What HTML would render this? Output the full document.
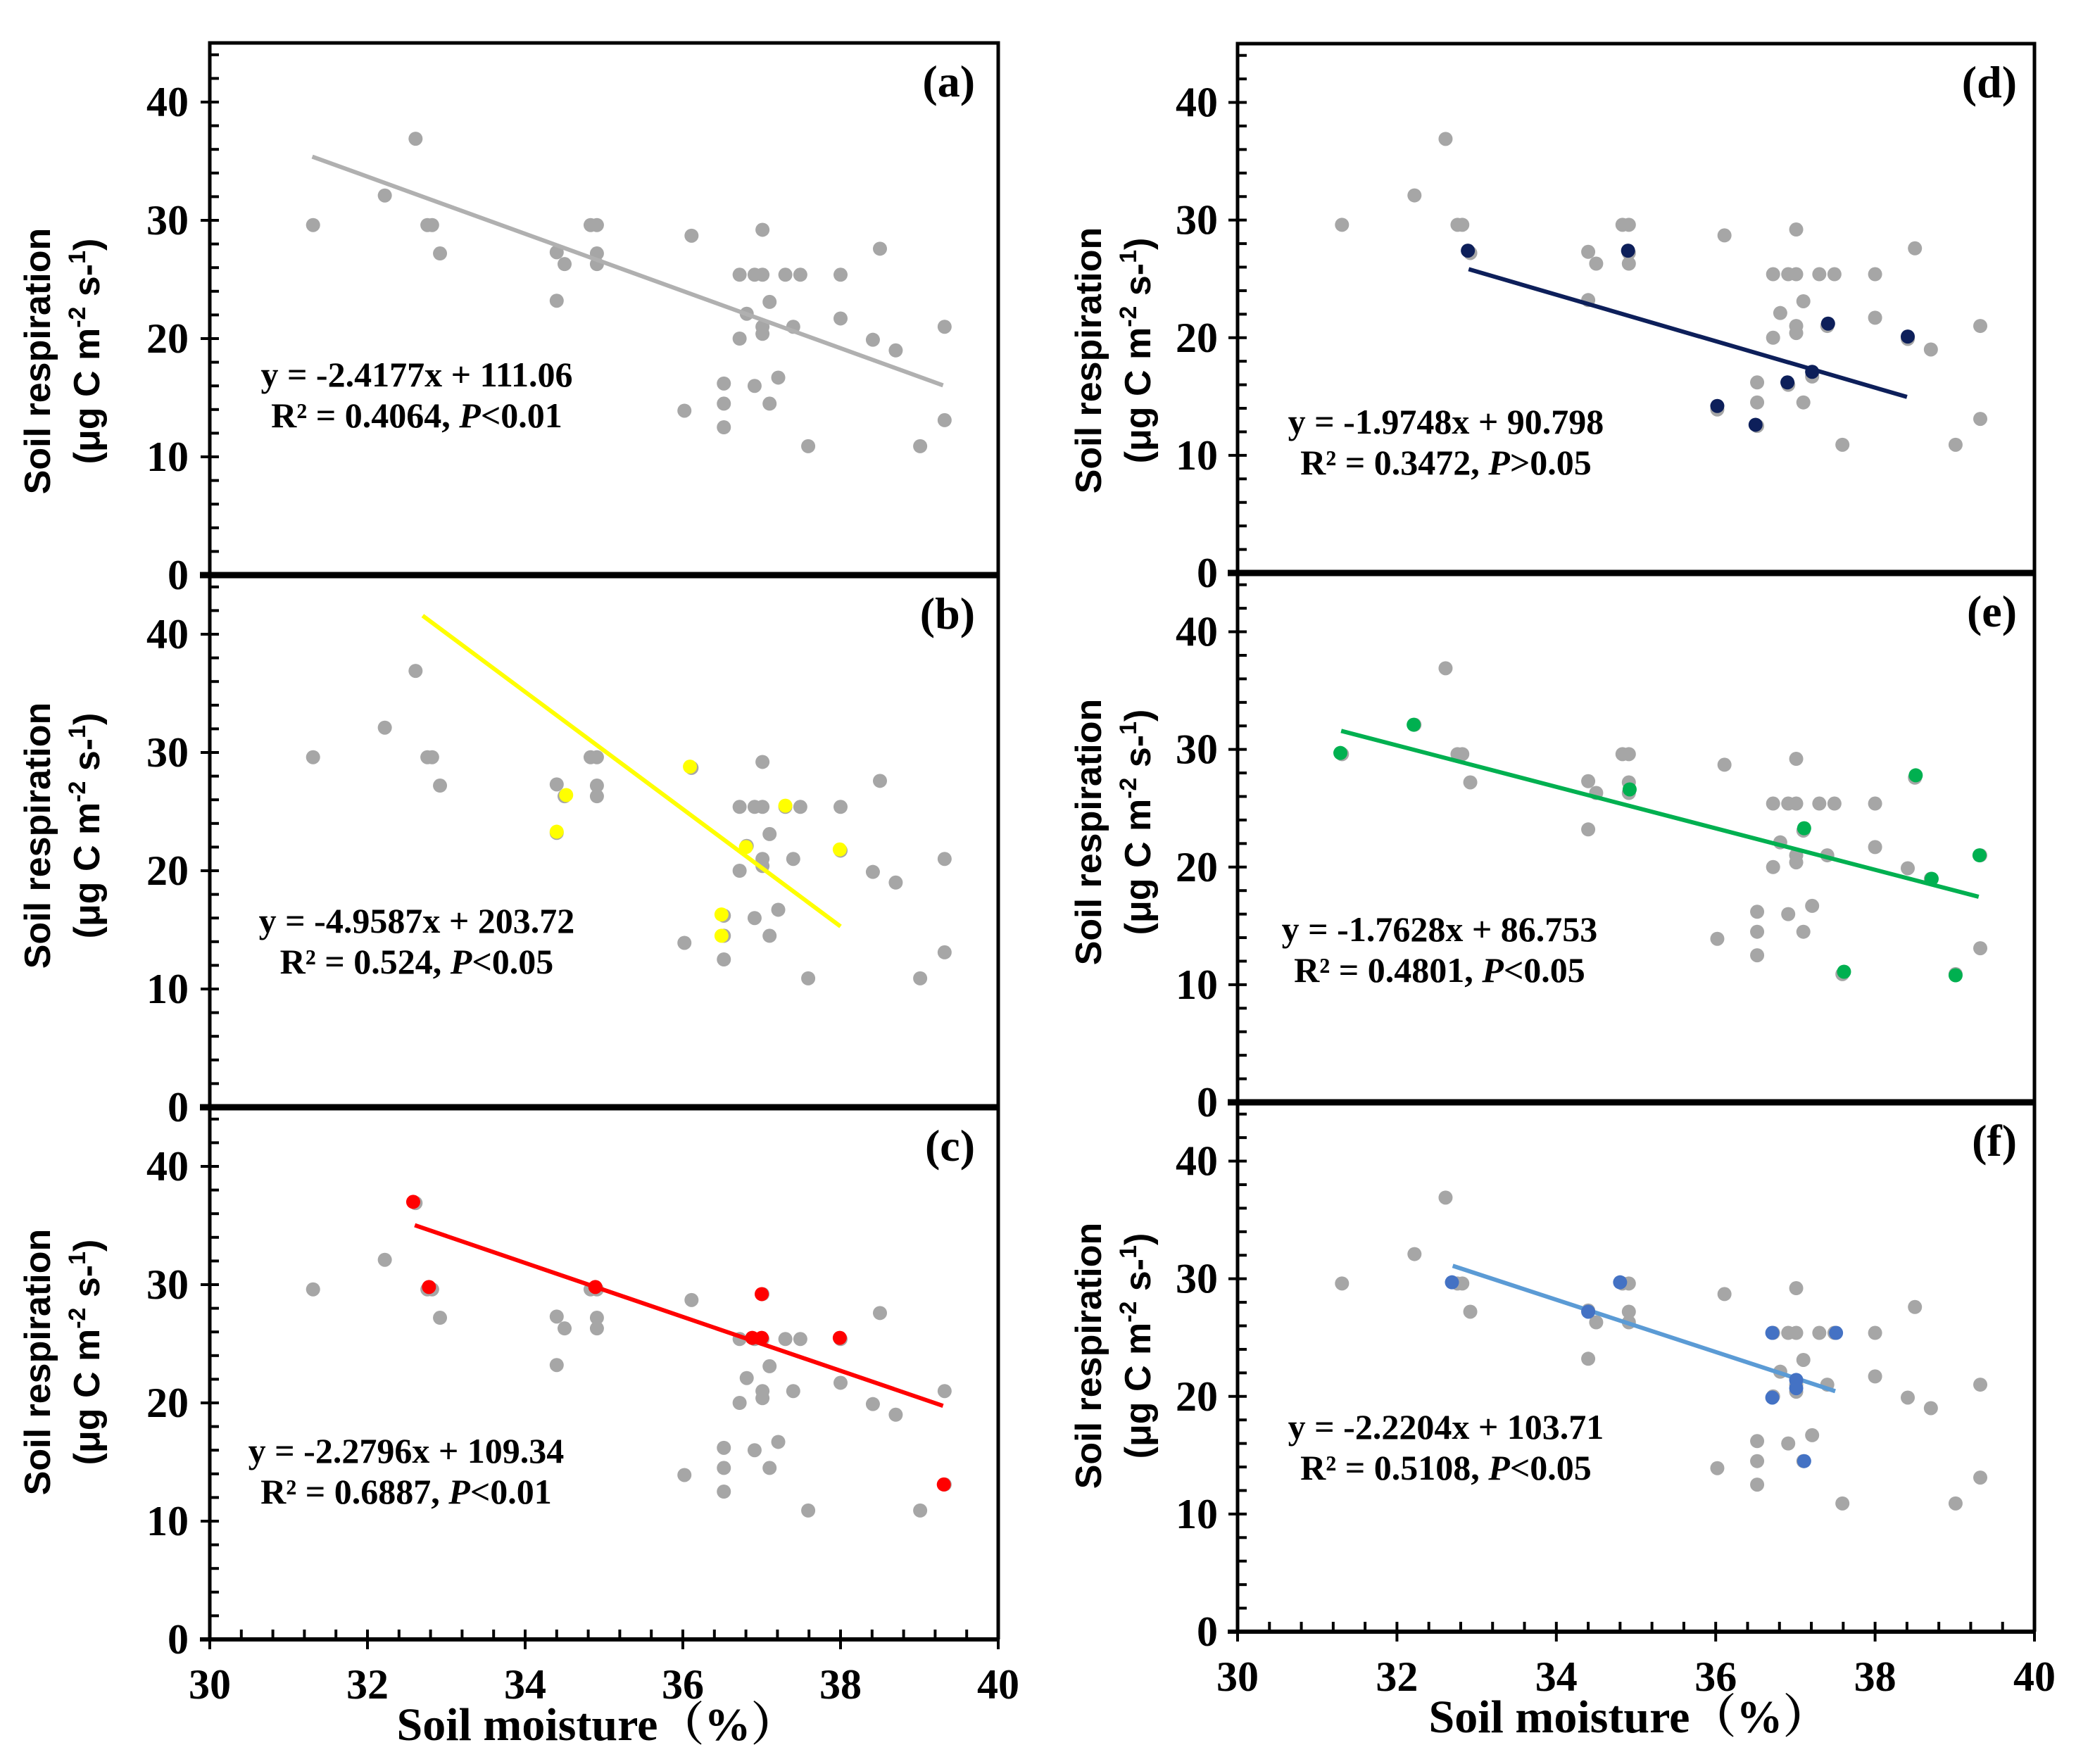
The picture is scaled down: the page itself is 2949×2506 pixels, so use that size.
<!DOCTYPE html>
<html><head><meta charset="utf-8"><style>
html,body{margin:0;padding:0;background:#fff}
svg{display:block}
.tk{font-family:"Liberation Serif",serif;font-weight:bold;font-size:60px;fill:#000}
.yt{font-family:"Liberation Sans",sans-serif;font-weight:bold;font-size:52px;fill:#000}
.eq{font-family:"Liberation Serif",serif;font-weight:bold;font-size:50px;fill:#000}
.pl{font-family:"Liberation Serif",serif;font-weight:bold;font-size:64px;fill:#000}
.xt{font-family:"Liberation Serif","Noto Serif CJK SC",serif;font-weight:bold;font-size:66px;fill:#000}
</style></head><body>
<svg id="chart" width="2949" height="2506" viewBox="0 0 2949 2506" xmlns="http://www.w3.org/2000/svg"></svg>
<script>
const grayX=[31.31,32.61,32.22,32.76,32.82,32.92,34.40,34.5,34.40,34.83,34.91,34.91,34.91,36.11,36.02,36.52,36.52,36.52,36.72,36.72,36.81,36.91,37.01,37.01,36.91,37.01,37.01,37.10,37.10,37.21,37.30,37.49,37.40,37.59,38.0,38.0,38.41,38.50,38.70,39.01,39.32,39.32];
const grayY=[29.6,36.9,32.1,29.6,29.6,27.2,27.3,26.3,23.2,29.6,29.6,27.2,26.3,28.7,13.9,16.2,14.5,12.5,25.4,20.0,22.1,25.4,25.4,29.2,16.0,21.0,20.4,23.1,14.5,16.7,25.4,25.4,21.0,10.9,25.4,21.7,19.9,27.6,19.0,10.9,21.0,13.1];
const bX=[34.52,34.40,36.09,36.49,36.49,36.80,37.30,37.99];
const bY=[26.4,23.3,28.8,16.3,14.5,22.0,25.5,21.8];
const cX=[32.58,32.78,34.89,37.0,36.88,37.0,37.99,39.31];
const cY=[37.0,29.8,29.8,29.2,25.5,25.5,25.5,13.1];
const dX=[32.89,34.9,36.02,36.5,36.9,37.21,37.41,38.41];
const dY=[27.4,27.4,14.2,12.6,16.2,17.1,21.2,20.1];
const eX=[31.29,32.21,34.92,37.11,38.51,38.71,39.31,37.61,39.01];
const eY=[29.7,32.1,26.6,23.3,27.8,19.0,21.0,11.1,10.8];
const fX=[32.69,34.8,34.40,36.71,37.51,36.71,37.01,37.01,37.11];
const fY=[29.7,29.7,27.2,25.4,25.4,19.9,20.7,21.4,14.5];
const slopes=[-2.4177,-4.9587,-2.2796,-1.9748,-1.7628,-2.2204];
const intercepts=[111.06,203.72,109.34,90.798,86.753,103.71];
const lineFrom=[31.3,32.7,32.6,32.9,31.3,32.7];
const lineTo=[39.3,38.0,39.3,38.4,39.3,37.5];
const eq1=["y = -2.4177x + 111.06","y = -4.9587x + 203.72","y = -2.2796x + 109.34","y = -1.9748x + 90.798","y = -1.7628x + 86.753","y = -2.2204x + 103.71"];
const r2=["R² = 0.4064, ","R² = 0.524, ","R² = 0.6887, ","R² = 0.3472, ","R² = 0.4801, ","R² = 0.5108, "];
const pv=["<0.01","<0.05","<0.01",">0.05","<0.05","<0.05"];
const labels=["(a)","(b)","(c)","(d)","(e)","(f)"];
const yTicks=[0,10,20,30,40];
const xTicks=[30,32,34,36,38,40];

const NS="http://www.w3.org/2000/svg";
const svg=document.getElementById('chart');
function mk(t,a,p){const e=document.createElementNS(NS,t);for(const k in a)e.setAttribute(k,a[k]);(p||svg).appendChild(e);return e;}

const cols=[{x0:298,x1:1418,top:61,h:756,eqx:[592,592,577],eqb:[268,248,251],lx:1385,ylx:[53,123],tlx:268},
            {x0:1758,x1:2890,top:62,h:752,eqx:[2054,2045,2054],eqb:[198,229,274],lx:2865,ylx:[1546,1616],tlx:1730}];
const titleOff=[74,-8,-16];
const hl=[null,{X:bX,Y:bY,pt:'#ffff00',ln:'#ffff00'},{X:cX,Y:cY,pt:'#ff0000',ln:'#ff0000'},
          {X:dX,Y:dY,pt:'#0d1f5a',ln:'#0d1f5a'},{X:eX,Y:eY,pt:'#00b050',ln:'#00b050'},{X:fX,Y:fY,pt:'#4472c4',ln:'#5b9bd5'}];

for(let i=0;i<6;i++){
  const c=cols[Math.floor(i/3)], r=i%3;
  const top=c.top+r*c.h, y0=top+c.h;
  const sx=v=>c.x0+(v-30)/10*(c.x1-c.x0);
  const sy=v=>y0-v/45*c.h;
  const g=mk('g',{});
  
  
  const fr=mk('path',{d:`M${c.x0},${y0} L${c.x0},${top} L${c.x1},${top} L${c.x1},${y0}`,fill:'none',stroke:'#000','stroke-width':5},g);
  
  const xa=mk('line',{x1:c.x0-14,x2:c.x1+2,y1:y0,y2:y0,stroke:'#000','stroke-width':r<2?9:6},g);
  
  for(let v=0;v<=44;v+=2){
    const maj=v%10===0;
    mk('line',{x1:maj?c.x0-13:c.x0,x2:c.x0+13,y1:sy(v),y2:sy(v),stroke:'#000','stroke-width':4},g);
  }
  yTicks.forEach(v=>{const t=mk('text',{x:c.tlx,y:sy(v)+20,'text-anchor':'end',class:'tk'},g);t.textContent=v;
    });
  if(r===2){
    for(let k=0;k<=25;k++){const v=30+k*0.4;const maj=k%5===0;
      mk('line',{x1:sx(v),x2:sx(v),y1:y0-14,y2:maj?y0+14:y0,stroke:'#000','stroke-width':4},g);}
    xTicks.forEach(v=>{const t=mk('text',{x:sx(v),y:y0+84,'text-anchor':'middle',class:'tk'},g);t.textContent=v;
      });
    const xt=mk('text',{x:(c.x0+c.x1)/2-10,y:y0+143,'text-anchor':'middle',class:'xt'},g);
    xt.textContent='Soil moisture（%）';
    
  }
  const cy=top+c.h/2+titleOff[r];
  const yt=mk('text',{transform:`translate(${c.ylx[0]+18},${cy}) rotate(-90)`,'text-anchor':'middle',class:'yt'},g);
  yt.textContent='Soil respiration';
  
  const yu=mk('text',{transform:`translate(${c.ylx[1]+18},${cy-14}) rotate(-90)`,'text-anchor':'middle',class:'yt'},g);
  yu.innerHTML='(μg C m<tspan dy="-20" font-size="34">-2</tspan><tspan dy="20"> s-</tspan><tspan dy="-20" font-size="34">1</tspan><tspan dy="20">)</tspan>';
  
  grayX.forEach((x,k)=>{const p=mk('circle',{cx:sx(x),cy:sy(grayY[k]),r:10,fill:'#a6a6a6'},g);
    });
  const lc=i===0?'#b0b0b0':hl[i].ln;
  const ln=mk('line',{x1:sx(lineFrom[i]),y1:sy(slopes[i]*lineFrom[i]+intercepts[i]),x2:sx(lineTo[i]),y2:sy(slopes[i]*lineTo[i]+intercepts[i]),stroke:lc,'stroke-width':6},g);
  
  if(hl[i]){hl[i].X.forEach((x,k)=>{const p=mk('circle',{cx:sx(x),cy:sy(hl[i].Y[k]),r:10,fill:hl[i].pt},g);
    });}
  const ex=c.eqx[r], eb=y0-c.eqb[r];
  const e1=mk('text',{x:ex,y:eb,'text-anchor':'middle',class:'eq'},g);e1.textContent=eq1[i];
  
  const e2=mk('text',{x:ex,y:eb+58,'text-anchor':'middle',class:'eq'},g);
  e2.innerHTML=r2[i]+'<tspan font-style="italic">P</tspan>'+pv[i].replace('<','&lt;').replace('>','&gt;');
  
  const pl=mk('text',{x:c.lx,y:top+76,'text-anchor':'end',class:'pl'},g);pl.textContent=labels[i];
  
}
</script>
</body></html>
